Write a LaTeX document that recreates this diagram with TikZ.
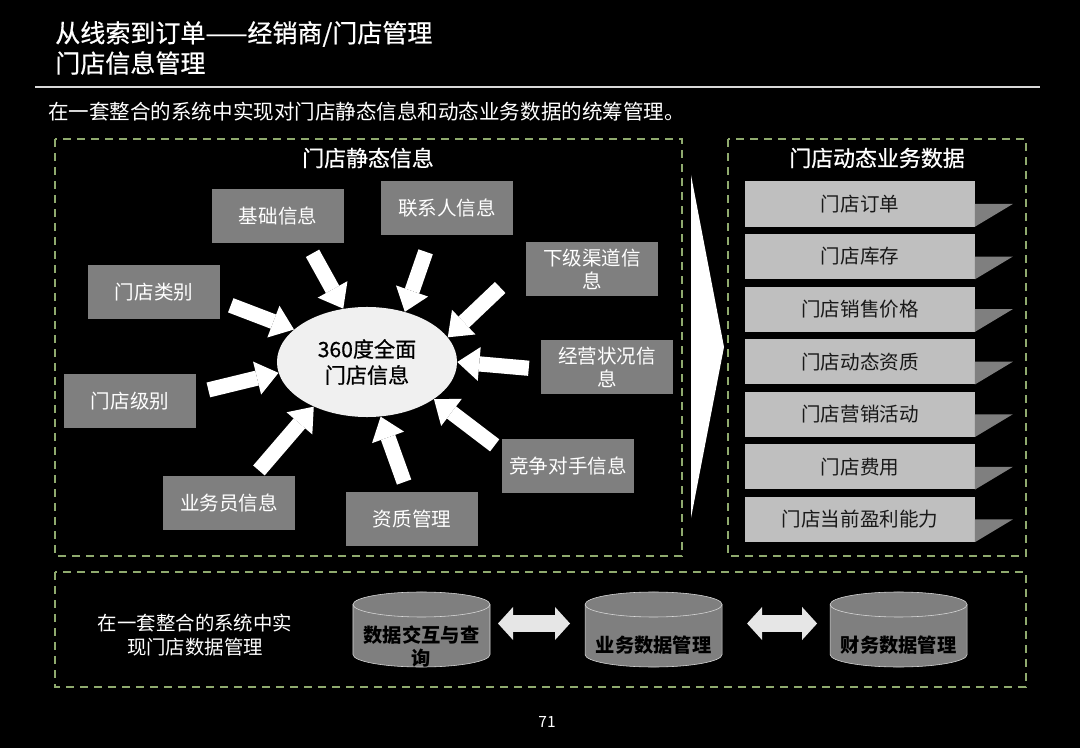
\documentclass[tikz,border=0pt]{standalone}
\usepackage{fontspec}
\setmainfont{Noto Sans CJK SC}
\newfontfamily\mediumcjk{Noto Sans CJK SC}[FakeBold=0.7]
\usepackage{xcolor}
\usepackage{tikz}
\usetikzlibrary{shapes.geometric, arrows.meta, positioning}
\definecolor{panelgreen}{RGB}{143,170,110}
\definecolor{boxgray}{RGB}{127,127,127}
\definecolor{palegray}{RGB}{191,191,191}
\definecolor{rulegray}{RGB}{217,217,217}
\definecolor{arrowgray}{RGB}{230,230,230}

\begin{document}
\begin{tikzpicture}[
    x=0.025cm, y=-0.025cm,
    node distance=0.175cm and 2.375cm,
    infobox/.style={fill=boxgray, text=white, minimum width=3.3cm, minimum height=1.325cm, align=center, inner sep=2pt, font=\fontsize{13.9}{16.5}\selectfont},
    databox/.style={fill=palegray, text=black!90, minimum width=5.725cm, minimum height=1.125cm, inner sep=2pt, font=\fontsize{13.9}{16.5}\selectfont},
    tab/.style={fill=boxgray},
    panel/.style={draw=panelgreen, line width=1.3pt, dash pattern=on 0.2cm off 0.15cm},
    heading/.style={text=white, inner sep=0pt, font=\mediumcjk\fontsize{15.6}{18}\selectfont},
    plaintext/.style={text=white, inner sep=0pt, anchor=west},
    fatarrow/.style={draw=white, line width=0.38cm, -{Triangle[width=0.85cm, length=0.55cm, line width=0pt]}},
    dblarrow/.style={draw=arrowgray, line width=0.425cm, {Triangle[width=0.825cm, length=0.375cm, line width=0pt]}-{Triangle[width=0.825cm, length=0.375cm, line width=0pt]}},
    cylspot/.style={minimum width=3.425cm, minimum height=1.875cm, inner sep=0pt, outer sep=0pt},
    cylpaint/.style={fill=boxgray, draw=rulegray, thin},
    cyltext/.style={text=black, align=center, inner sep=0pt, font=\fontsize{13.7}{16.5}\selectfont\bfseries}
]
    \fill[black] (0,0) rectangle (1080,748);
    \useasboundingbox (0,0) rectangle (1080,748);

    % Title
    \node[plaintext, font=\mediumcjk\fontsize{17.8}{20}\selectfont] (title1) at (55,34) {从线索到订单——经销商/门店管理};
    \node[plaintext, font=\mediumcjk\fontsize{17.8}{20}\selectfont] (title2) at (55,63) {门店信息管理};
    \draw[rulegray, line width=1.5pt] (35,87) -- (1040,87);
    \node[plaintext, font=\fontsize{14.6}{17}\selectfont] (summary) at (48,112) {在一套整合的系统中实现对门店静态信息和动态业务数据的统筹管理。};

    % Panels
    \draw[panel] (55,139) rectangle (682,556);
    \draw[panel] (728,139) rectangle (1026,556);
    \draw[panel] (55,572) rectangle (1026,687);
    \node[heading] (statichead) at (368,158) {门店静态信息};
    \node[heading] (dynhead) at (877,158) {门店动态业务数据};

    % Static info around the core
    \node[ellipse, fill=white!94!black, minimum width=4.5cm, minimum height=2.75cm, inner sep=0pt, align=center, font=\mediumcjk\fontsize{15}{18.5}\selectfont] (core) at (367,362) {360度全面\\门店信息};

    \node[infobox] (jichu) at (278,216) {基础信息};
    \node[infobox] (lianxi) at (447,208) {联系人信息};
    \node[infobox] (xiaji) at (592,269) {下级渠道信\\息};
    \node[infobox] (leibie) at (154,292) {门店类别};
    \node[infobox] (jingying) at (607,367) {经营状况信\\息};
    \node[infobox] (jibie) at (130,401) {门店级别};
    \node[infobox] (jingzheng) at (568,466) {竞争对手信息};
    \node[infobox] (yewu) at (229,503) {业务员信息};
    \node[infobox] (zizhi) at (412,519) {资质管理};

    \draw[fatarrow, shorten <=0.3cm] (jichu.-43) -- (core.114);
    \draw[fatarrow, shorten <=0.45cm] (lianxi.240) -- (core.53);
    \draw[fatarrow, shorten <=0.88cm] (xiaji.175) -- (core.17);
    \draw[fatarrow, shorten <=0.28cm] (leibie.-8) -- (core.156);
    \draw[fatarrow, shorten <=0.3cm] (jingying.182) -- (core.0);
    \draw[fatarrow, shorten <=0.31cm] (jibie.7) -- (core.187);
    \draw[fatarrow, shorten <=0.22cm] (jingzheng.167) -- (core.-29);
    \draw[fatarrow, shorten <=0.19cm] (yewu.47) -- (core.220);
    \draw[fatarrow, shorten <=0.27cm] (zizhi.99) -- (core.284);

    % Chevron
    \fill[white] (691,175) -- (724,347) -- (691,518) -- cycle;

    % Dynamic data
    \node[databox] (order) at (860,204) {门店订单};
    \node[databox, below=of order] (stock) {门店库存};
    \node[databox, below=of stock] (price) {门店销售价格};
    \node[databox, below=of price] (license) {门店动态资质};
    \node[databox, below=of license] (promo) {门店营销活动};
    \node[databox, below=of promo] (cost) {门店费用};
    \node[databox, below=of cost] (profit) {门店当前盈利能力};

    \fill[tab] (order.east) -- ++(38,0) -- (order.south east) -- cycle;
    \fill[tab] (stock.east) -- ++(38,0) -- (stock.south east) -- cycle;
    \fill[tab] (price.east) -- ++(38,0) -- (price.south east) -- cycle;
    \fill[tab] (license.east) -- ++(38,0) -- (license.south east) -- cycle;
    \fill[tab] (promo.east) -- ++(38,0) -- (promo.south east) -- cycle;
    \fill[tab] (cost.east) -- ++(38,0) -- (cost.south east) -- cycle;
    \fill[tab] (profit.east) -- ++(38,0) -- (profit.south east) -- cycle;

    % Data management
    \node[text=white, align=center, inner sep=0pt, font=\fontsize{13.8}{17}\selectfont] (bottomnote) at (195,635) {在一套整合的系统中实\\现门店数据管理};
    \node[cylspot] (query) at (421.5,629.5) {};
    \node[cylspot, right=of query] (business) {};
    \node[cylspot, right=2.7cm of business] (finance) {};
    \foreach \db in {query, business, finance} {
        \filldraw[cylpaint] ([yshift=-0.3125cm]\db.north west) -- ([yshift=0.3125cm]\db.south west)
            arc[start angle=180, end angle=360, x radius=1.7125cm, y radius=0.3125cm]
            -- ([yshift=-0.3125cm]\db.north east)
            arc[start angle=0, end angle=180, x radius=1.7125cm, y radius=0.3125cm] -- cycle;
        \draw[cylpaint, fill=none] ([yshift=-0.3125cm]\db.north west)
            arc[start angle=180, end angle=360, x radius=1.7125cm, y radius=0.3125cm];
    }
    \node[cyltext] (querytext) at ([yshift=-0.42cm]query.center) {数据交互与查\\询};
    \node[cyltext] (businesstext) at ([yshift=-0.39cm]business.center) {业务数据管理};
    \node[cyltext] (financetext) at ([yshift=-0.39cm]finance.center) {财务数据管理};

    \draw[dblarrow, shorten <=0.2cm, shorten >=0.375cm] ([yshift=0.15cm]query.east) -- ([yshift=0.15cm]business.west);
    \draw[dblarrow, shorten <=0.625cm, shorten >=0.325cm] ([yshift=0.15cm]business.east) -- ([yshift=0.15cm]finance.west);

    \node[text=white, font=\fontsize{11}{13}\selectfont] (pagenum) at (547,722) {71};
\end{tikzpicture}
\end{document}
